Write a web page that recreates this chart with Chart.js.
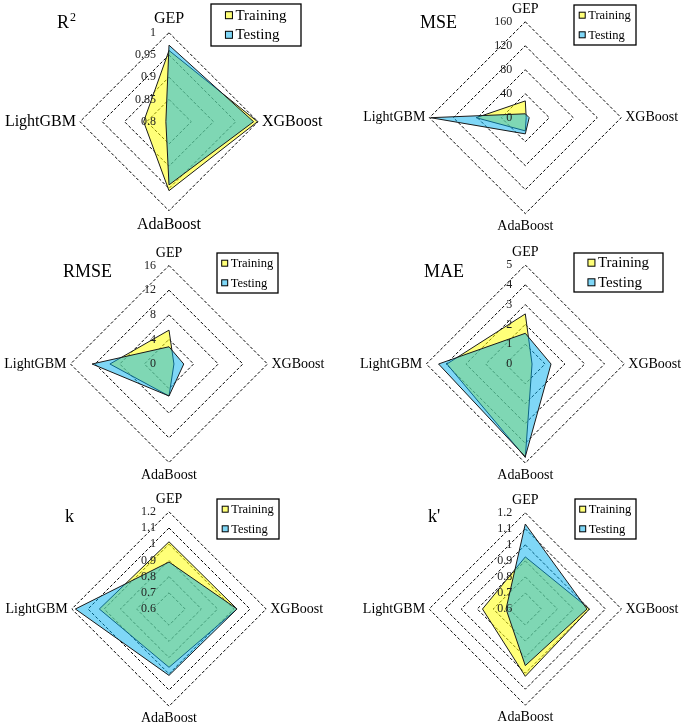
<!DOCTYPE html>
<html>
<head>
<meta charset="utf-8">
<script src="https://cdn.jsdelivr.net/npm/chart.js@4.4.0/dist/chart.umd.min.js"></script>
<style>
  html, body { margin: 0; padding: 0; background: #fff; }
  #wrap { position: relative; width: 685px; height: 728px; overflow: hidden; background: #fff; }
  #wrap canvas { position: absolute; left: 0; top: 0; }
</style>
</head>
<body>
<div id="wrap">
  <canvas id="c0" width="685" height="728"></canvas>
  <canvas id="c1" width="685" height="728"></canvas>
  <canvas id="c2" width="685" height="728"></canvas>
  <canvas id="c3" width="685" height="728"></canvas>
  <canvas id="c4" width="685" height="728"></canvas>
  <canvas id="c5" width="685" height="728"></canvas>
</div>
<script>
// axes (clockwise from top)
var models = ['GEP', 'XGBoost', 'AdaBoost', 'LightGBM'];
var seriesNames = ['Training', 'Testing'];

var r2Train = [0.96, 0.999, 0.955, 0.857];
var r2Test = [0.972, 0.99, 0.942, 0.807];
var r2Ticks = [0.8, 0.85, 0.9, 0.95, 1];

var mseTrain = [28, 1.5, 22, 82];
var mseTest = [6.5, 6.5, 27, 158];
var mseTicks = [0, 40, 80, 120, 160];

var rmseTrain = [5.5, 0.8, 5.2, 9.6];
var rmseTest = [2.8, 2.4, 5.2, 12.5];
var rmseTicks = [0, 4, 8, 12, 16];

var maeTrain = [2.53, 0.34, 4.72, 3.96];
var maeTest = [1.55, 1.3, 4.68, 4.38];
var maeTicks = [0, 1, 2, 3, 4, 5];

var kTrain = [1.015, 1.02, 0.96, 1.03];
var kTest = [0.89, 1.02, 1.01, 1.178];
var kTicks = [0.6, 0.7, 0.8, 0.9, 1, 1.1, 1.2];

var kpTrain = [0.925, 1.0, 1.02, 0.867];
var kpTest = [1.13, 0.985, 0.953, 0.72];
var kpTicks = [0.6, 0.7, 0.8, 0.9, 1, 1.1, 1.2];

var trainFill = 'rgba(255, 255, 0, 0.53)';
var testFill = 'rgba(0, 176, 240, 0.5)';
var FONT = '"Liberation Serif", "Times New Roman", serif';

// layout of each panel (centre / radius of the radar, title, legend box)
var panels = [
  { id: 'c0', title: 'R', sup: '2', train: r2Train, test: r2Test, ticks: r2Ticks,
    cx: 169, cy: 121.7, r: 89, labelSize: 16, tx: 57, ty: 28,
    legend: { x: 211, y: 4, w: 90, h: 42, size: 15, box: 7 } },
  { id: 'c1', title: 'MSE', train: mseTrain, test: mseTest, ticks: mseTicks,
    cx: 525.3, cy: 116.7, r: 99, labelSize: 14, tx: 420, ty: 28,
    legend: { x: 574, y: 5, w: 62, h: 40, size: 12.5, box: 6 } },
  { id: 'c2', title: 'RMSE', train: rmseTrain, test: rmseTest, ticks: rmseTicks,
    cx: 169, cy: 364, r: 98.5, labelSize: 14, tx: 63, ty: 277,
    legend: { x: 217, y: 253, w: 61, h: 40, size: 12.5, box: 6 } },
  { id: 'c3', title: 'MAE', train: maeTrain, test: maeTest, ticks: maeTicks,
    cx: 525.3, cy: 364, r: 99, labelSize: 14, tx: 424, ty: 277,
    legend: { x: 574, y: 253, w: 89, h: 39, size: 15, box: 7 } },
  { id: 'c4', title: 'k', train: kTrain, test: kTest, ticks: kTicks,
    cx: 169, cy: 610, r: 97.5, labelSize: 14, tx: 65, ty: 522,
    legend: { x: 217, y: 499, w: 62, h: 40, size: 12.5, box: 6 } },
  { id: 'c5', title: "k'", train: kpTrain, test: kpTest, ticks: kpTicks,
    cx: 525.3, cy: 611, r: 98.7, labelSize: 14, tx: 428, ty: 522,
    legend: { x: 575, y: 499, w: 61, h: 40, size: 12.5, box: 6 } }
];

// tick labels sit left of the vertical axis, title + boxed legend drawn by hand
var decor = {
  id: 'decor',
  afterDatasetsDraw: function(chart) {
    var scale = chart.scales.r;
    var ctx = chart.ctx;
    ctx.save();
    ctx.font = '12px ' + FONT;
    ctx.fillStyle = '#222';
    ctx.textAlign = 'right';
    ctx.textBaseline = 'middle';
    scale.ticks.forEach(function(t) {
      var d = scale.getDistanceFromCenterForValue(t.value);
      ctx.fillText(String(t.value), scale.xCenter - 13, scale.yCenter - d);
    });
    ctx.restore();
  },
  afterDraw: function(chart) {
    var p = chart.options.plugins.decor;
    var ctx = chart.ctx;
    ctx.save();
    ctx.fillStyle = '#000';
    ctx.font = '18px ' + FONT;
    ctx.textAlign = 'left';
    ctx.textBaseline = 'alphabetic';
    ctx.fillText(p.title, p.tx, p.ty);
    if (p.sup) {
      var w = ctx.measureText(p.title).width;
      ctx.font = '12px ' + FONT;
      ctx.fillText(p.sup, p.tx + w + 1, p.ty - 7);
    }

    var lg = p.legend;
    ctx.fillStyle = '#fff';
    ctx.fillRect(lg.x, lg.y, lg.w, lg.h);
    ctx.lineWidth = 1.3;
    ctx.strokeStyle = '#000';
    ctx.strokeRect(lg.x, lg.y, lg.w, lg.h);
    ctx.font = lg.size + 'px ' + FONT;
    ctx.textBaseline = 'middle';
    var gap = 3;
    var textW = ctx.measureText(seriesNames[0]).width;
    var left = lg.x + (lg.w - (lg.box + gap + textW)) / 2;
    chart.data.datasets.forEach(function(ds, i) {
      var yMid = lg.y + lg.h / 2 + (i === 0 ? -9.8 : 9.8);
      ctx.fillStyle = '#fff';
      ctx.fillRect(left, yMid - lg.box / 2, lg.box, lg.box);
      ctx.fillStyle = ds.backgroundColor;
      ctx.fillRect(left, yMid - lg.box / 2, lg.box, lg.box);
      ctx.lineWidth = 1;
      ctx.strokeRect(left, yMid - lg.box / 2, lg.box, lg.box);
      ctx.fillStyle = '#000';
      ctx.fillText(ds.label, left + lg.box + gap, yMid + 0.5);
    });
    ctx.restore();
  }
};

panels.forEach(function(p) {
  var ctx = document.getElementById(p.id);
  new Chart(ctx, {
    type: 'radar',
    data: {
      labels: models,
      datasets: [
        {
          label: seriesNames[0],
          data: p.train,
          backgroundColor: trainFill,
          borderColor: '#1a1a1a',
          borderWidth: 1,
          fill: true,
          order: 1
        },
        {
          label: seriesNames[1],
          data: p.test,
          backgroundColor: testFill,
          borderColor: '#1a1a1a',
          borderWidth: 1,
          fill: true,
          order: 0
        }
      ]
    },
    options: {
      responsive: false,
      animation: false,
      events: [],
      layout: { padding: 0 },
      elements: {
        line: { tension: 0 },
        point: { radius: 0, hoverRadius: 0 }
      },
      scales: {
        r: {
          min: p.ticks[0],
          max: p.ticks[p.ticks.length - 1],
          afterSetDimensions: function(scale) {
            scale.xCenter = p.cx;
            scale.yCenter = p.cy;
            scale.drawingArea = p.r;
          },
          afterBuildTicks: function(scale) {
            scale.ticks = p.ticks.map(function(v) { return { value: v }; });
          },
          angleLines: { display: false },
          grid: {
            circular: false,
            color: '#000',
            lineWidth: 1
          },
          border: { dash: [3, 2] },
          ticks: { display: false },
          pointLabels: {
            display: true,
            padding: 4,
            color: '#000',
            font: { family: FONT, size: p.labelSize }
          }
        }
      },
      plugins: {
        legend: { display: false },
        tooltip: { enabled: false },
        decor: p
      }
    },
    plugins: [decor]
  });
});
</script>
</body>
</html>
